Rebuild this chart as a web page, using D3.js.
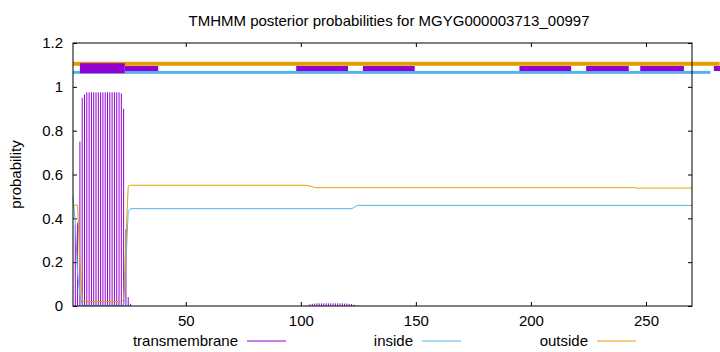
<!DOCTYPE html>
<meta charset="utf-8">
<style>
  body { margin: 0; background: #fff; }
  text { font-family: "Liberation Sans", Arial, sans-serif; fill: #000; }
</style>
<script src="https://d3js.org/d3.v7.min.js"></script>
<div id="chart"></div>
<script>
// transmembrane posterior, drawn as impulses [position, probability]
var tmValues = [
  [2, 0.37], [3, 0.38], [4, 0.75], [5, 0.95], [6, 0.965], [7, 0.975], [8, 0.975],
  [9, 0.975], [10, 0.975], [11, 0.975], [12, 0.975], [13, 0.975], [14, 0.975],
  [15, 0.975], [16, 0.975], [17, 0.975], [18, 0.975], [19, 0.975], [20, 0.975],
  [21, 0.975], [22, 0.97], [23, 0.90], [24, 0.35], [25, 0.04], [26, 0.01],
  [103, 0.004], [104, 0.008], [105, 0.01], [106, 0.011], [107, 0.012], [108, 0.012],
  [109, 0.012], [110, 0.012], [111, 0.012], [112, 0.012], [113, 0.012], [114, 0.012],
  [115, 0.012], [116, 0.012], [117, 0.012], [118, 0.012], [119, 0.011], [120, 0.011],
  [121, 0.01], [122, 0.009], [123, 0.006], [124, 0.003], [125, 0.001]
];

// inside posterior, points
var insideValues = [
  [1, 0.50], [2, 0.38], [3, 0.15], [4, 0.05], [5, 0.005], [6, 0.002], [23, 0.003],
  [24, 0.20], [25, 0.43], [26, 0.444], [122, 0.444], [123, 0.449], [124, 0.456],
  [125, 0.459], [270, 0.459]
];

// outside posterior
var outsideValues = [
  [1, 0.46], [3, 0.46], [4, 0.20], [5, 0.025], [6, 0.02], [22, 0.02], [23, 0.03],
  [24, 0.30], [25, 0.547], [26, 0.551], [102, 0.551], [104, 0.547], [106, 0.541],
  [107, 0.540], [245, 0.540], [246, 0.538], [270, 0.538]
];

// predicted topology bars along the top
var outsideBar = [[1, 282]];
var insideBar = [[1, 278]];
var tmHelix = [[4, 23.5]];
var tmBars = [[23.5, 38], [98, 120.5], [127, 149.5], [195, 217.5], [224, 242.5], [247.5, 266.5], [279.5, 290]];

var xTicks = [50, 100, 150, 200, 250];
var yTicks = [0, 0.2, 0.4, 0.6, 0.8, 1, 1.2];
var series = ["transmembrane", "inside", "outside"];
var colors = { transmembrane: "#9400d3", inside: "#56b4e9", outside: "#e69f00" };

var W = 720, H = 352;
var margin = { top: 43, right: 28, bottom: 46, left: 73 };
var fontSize = "15px";

var svg = d3.select("#chart").append("svg")
  .attr("width", W).attr("height", H);

var x = d3.scaleLinear().domain([1, 270]).range([margin.left, W - margin.right]);
var y = d3.scaleLinear().domain([0, 1.2]).range([H - margin.bottom, margin.top]);

// title
svg.append("text")
  .attr("x", 389).attr("y", 26)
  .attr("text-anchor", "middle")
  .style("font-size", fontSize)
  .text("TMHMM posterior probabilities for MGYG000003713_00997");

// y label
svg.append("text")
  .attr("transform", "translate(21," + ((margin.top + H - margin.bottom) / 2) + ") rotate(-90)")
  .attr("text-anchor", "middle")
  .style("font-size", fontSize)
  .text("probability");

// axes (ticks pointing inward, mirrored)
function styleAxis(g) {
  g.select(".domain").remove();
  g.selectAll("line").attr("stroke", "#000");
  g.selectAll("text").style("font-size", fontSize).style("font-family", "'Liberation Sans', Arial, sans-serif");
}
svg.append("g")
  .attr("transform", "translate(0," + y(0) + ")")
  .call(d3.axisBottom(x).tickValues(xTicks).tickSizeInner(-4).tickSizeOuter(0).tickPadding(9))
  .call(styleAxis);
svg.append("g")
  .attr("transform", "translate(0," + y(1.2) + ")")
  .call(d3.axisTop(x).tickValues(xTicks).tickSizeInner(-4).tickSizeOuter(0).tickFormat(""))
  .call(styleAxis);
svg.append("g")
  .attr("transform", "translate(" + x(1) + ",0)")
  .call(d3.axisLeft(y).tickValues(yTicks).tickSizeInner(-4).tickSizeOuter(0).tickPadding(10).tickFormat(d3.format("")))
  .call(styleAxis);
svg.append("g")
  .attr("transform", "translate(" + x(270) + ",0)")
  .call(d3.axisRight(y).tickValues(yTicks).tickSizeInner(-4).tickSizeOuter(0).tickFormat(""))
  .call(styleAxis);

// transmembrane impulses
svg.append("g").selectAll("line")
  .data(tmValues)
  .enter().append("line")
    .attr("x1", function(d) { return x(d[0]); })
    .attr("x2", function(d) { return x(d[0]); })
    .attr("y1", y(0))
    .attr("y2", function(d) { return y(d[1]); })
    .attr("stroke", colors.transmembrane)
    .attr("stroke-width", 1);

var line = d3.line()
  .x(function(d) { return x(d[0]); })
  .y(function(d) { return y(d[1]); });

svg.append("path").datum(insideValues)
  .attr("d", line).attr("fill", "none")
  .attr("stroke", colors.inside).attr("stroke-width", 1);
svg.append("path").datum(outsideValues)
  .attr("d", line).attr("fill", "none")
  .attr("stroke", colors.outside).attr("stroke-width", 1);

// topology bars
function bars(data, level, thick, color) {
  svg.append("g").selectAll("rect")
    .data(data)
    .enter().append("rect")
      .attr("x", function(d) { return x(d[0]); })
      .attr("width", function(d) { return x(d[1]) - x(d[0]); })
      .attr("y", y(level) - thick / 2)
      .attr("height", thick)
      .attr("fill", color);
}
bars(outsideBar, 1.105, 4, colors.outside);
bars(insideBar, 1.066, 3, colors.inside);
bars(tmBars, 1.0835, 5, colors.transmembrane);
bars(tmHelix, 1.085, 10, colors.transmembrane);

// plot border
svg.append("rect")
  .attr("x", x(1)).attr("y", y(1.2))
  .attr("width", x(270) - x(1)).attr("height", y(0) - y(1.2))
  .attr("fill", "none").attr("stroke", "#000").attr("stroke-width", 1);

// legend
var legendX = [238, 413, 588];
var lg = svg.append("g").selectAll("g")
  .data(series)
  .enter().append("g")
    .attr("transform", function(d, i) { return "translate(" + legendX[i] + ",341)"; });
lg.append("text")
  .attr("text-anchor", "end")
  .attr("dy", "0.35em")
  .style("font-size", fontSize)
  .text(function(d) { return d; });
lg.append("line")
  .attr("x1", 9).attr("x2", 48)
  .attr("stroke", function(d) { return colors[d]; })
  .attr("stroke-width", 1);
</script>
